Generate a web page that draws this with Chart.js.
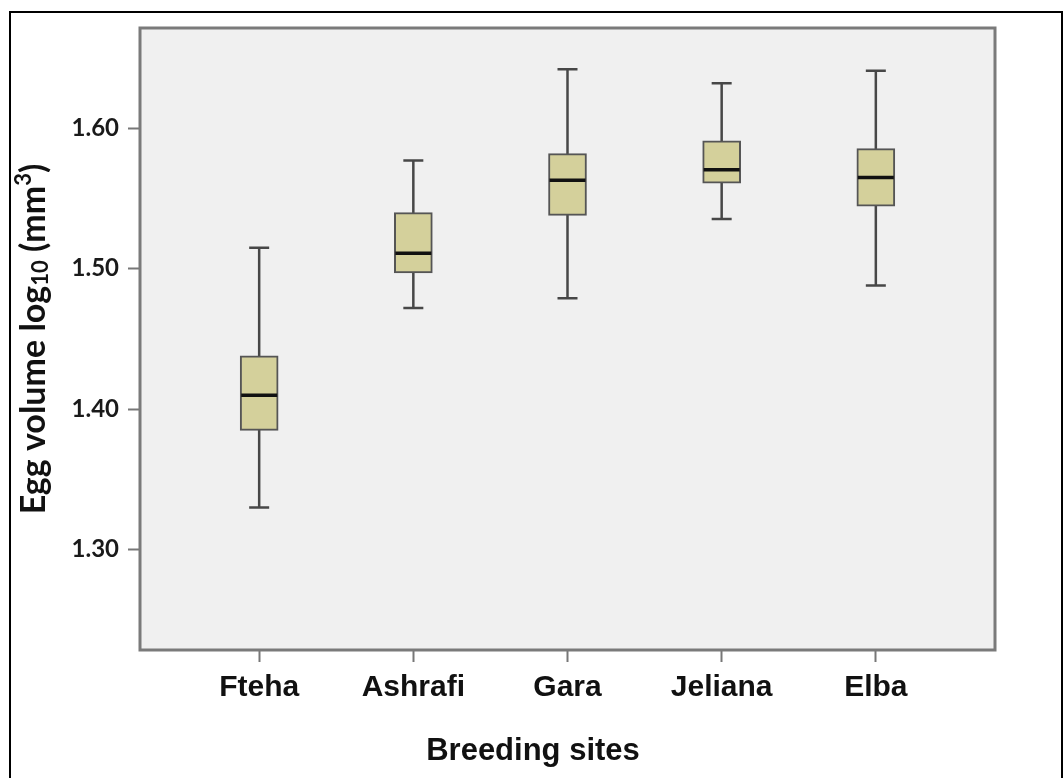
<!DOCTYPE html>
<html>
<head>
<meta charset="utf-8">
<title>Egg volume by breeding site</title>
<script src="https://cdn.jsdelivr.net/npm/chart.js@4"></script>
<style>
  html, body { margin: 0; padding: 0; background: #fff; }
  #wrap { position: relative; width: 1063px; height: 778px; overflow: hidden; }
  #frame { position: absolute; left: 9px; top: 11px; width: 1050px; height: 800px; border: 2px solid #000; pointer-events: none; }
</style>
</head>
<body>
<div id="wrap">
  <canvas id="eggChart" width="1063" height="778"></canvas>
  <div id="frame"></div>
</div>
<script>
// log10 egg volume per site (whisker ends, quartiles, median)
const sites = ['Fteha', 'Ashrafi', 'Gara', 'Jeliana', 'Elba'];
const lowWhisker  = [1.330, 1.472, 1.479, 1.5355, 1.488];
const q1          = [1.385, 1.497, 1.538, 1.561, 1.5445];
const median      = [1.410, 1.511, 1.563, 1.5705, 1.565];
const q3          = [1.438, 1.540, 1.582, 1.591, 1.5855];
const highWhisker = [1.515, 1.577, 1.642, 1.632, 1.641];
const yTicks = [1.30, 1.40, 1.50, 1.60];

const boxExtras = {
    id: 'boxExtras',
    beforeDraw(chart) {
        const { ctx, chartArea: a } = chart;
        ctx.save();
        ctx.fillStyle = '#f0f0f0';
        ctx.fillRect(a.left, a.top, a.width, a.height);
        ctx.restore();
    },
    beforeDatasetsDraw(chart) {
        // whiskers + caps, drawn under the boxes
        const { ctx, scales: { x, y } } = chart;
        ctx.save();
        ctx.strokeStyle = '#474747';
        ctx.lineWidth = 2.5;
        sites.forEach((s, i) => {
            const cx = x.getPixelForValue(i);
            const lo = y.getPixelForValue(lowWhisker[i]);
            const hi = y.getPixelForValue(highWhisker[i]);
            ctx.beginPath();
            ctx.moveTo(cx, lo);
            ctx.lineTo(cx, hi);
            ctx.moveTo(cx - 10, lo);
            ctx.lineTo(cx + 10, lo);
            ctx.moveTo(cx - 10, hi);
            ctx.lineTo(cx + 10, hi);
            ctx.stroke();
        });
        ctx.restore();
    },
    afterDatasetsDraw(chart) {
        const { ctx, chartArea: a, scales: { x, y } } = chart;
        ctx.save();
        // medians
        ctx.strokeStyle = '#111';
        ctx.lineWidth = 3.5;
        sites.forEach((s, i) => {
            const cx = x.getPixelForValue(i);
            const py = y.getPixelForValue(median[i]);
            ctx.beginPath();
            ctx.moveTo(cx - 18, py);
            ctx.lineTo(cx + 18, py);
            ctx.stroke();
        });
        // plot frame
        ctx.strokeStyle = '#7a7a7a';
        ctx.lineWidth = 3;
        ctx.strokeRect(a.left, a.top, a.width, a.height);
        ctx.restore();
    },
    afterDraw(chart) {
        const { ctx } = chart;
        ctx.save();
        ctx.fillStyle = '#111';

        // x axis title
        ctx.font = 'bold 31px "Liberation Sans", Arial, sans-serif';
        ctx.textAlign = 'center';
        ctx.textBaseline = 'alphabetic';
        ctx.fillText('Breeding sites', 533, 760);

        // y axis title with subscript / superscript
        const big = 'bold 34px Lato, "Open Sans", sans-serif';
        const small = 'bold 22px Lato, "Open Sans", sans-serif';
        const parts = [
            { t: 'Egg volume log', f: big, dy: 0 },
            { t: '10', f: small, dy: 3 },
            { t: ' (mm', f: big, dy: 0 },
            { t: '3', f: small, dy: -14 },
            { t: ')', f: big, dy: 0 }
        ];
        let total = 0;
        parts.forEach(p => { ctx.font = p.f; p.w = ctx.measureText(p.t).width; total += p.w; });
        ctx.translate(45, 339);
        ctx.rotate(-Math.PI / 2);
        ctx.textAlign = 'left';
        let px = -total / 2;
        parts.forEach(p => {
            ctx.font = p.f;
            ctx.fillText(p.t, px, p.dy);
            px += p.w;
        });
        ctx.restore();
    }
};

const eggChart = new Chart(document.getElementById('eggChart'), {
    type: 'bar',
    data: {
        datasets: [{
            label: 'Egg volume',
            data: sites.map((s, i) => ({ x: i, y: [q1[i], q3[i]] })),
            backgroundColor: '#d4d09b',
            borderColor: '#555',
            borderWidth: 2,
            borderSkipped: false,
            barThickness: 38
        }]
    },
    options: {
        responsive: false,
        animation: false,
        layout: { padding: { left: 0, top: 28, right: 68, bottom: 0 } },
        plugins: {
            legend: { display: false },
            tooltip: { enabled: false },
            title: { display: false }
        },
        scales: {
            x: {
                type: 'linear',
                offset: false,
                min: -0.773,
                max: 4.773,
                afterFit: s => { s.height = 128; },
                afterBuildTicks: s => { s.ticks = sites.map((n, i) => ({ value: i })); },
                grid: { offset: false, drawOnChartArea: false, drawTicks: true, tickLength: 12, tickColor: '#777', tickWidth: 2 },
                border: { display: false },
                ticks: {
                    autoSkip: false,
                    maxRotation: 0,
                    padding: 8,
                    color: '#111',
                    font: { family: '"Liberation Sans", Arial, sans-serif', size: 30, weight: 'bold' },
                    callback: v => sites[v]
                }
            },
            y: {
                type: 'linear',
                min: 1.2286,
                max: 1.6714,
                afterFit: s => { s.width = 140; },
                afterBuildTicks: s => { s.ticks = yTicks.map(v => ({ value: v })); },
                grid: { drawOnChartArea: false, drawTicks: true, tickLength: 12, tickColor: '#777', tickWidth: 2 },
                border: { display: false },
                ticks: {
                    padding: 9,
                    color: '#1a1a1a',
                    font: { family: 'Lato, "Open Sans", sans-serif', size: 24, weight: 'bold' },
                    callback: v => v.toFixed(2)
                }
            }
        }
    },
    plugins: [boxExtras]
});
</script>
</body>
</html>
